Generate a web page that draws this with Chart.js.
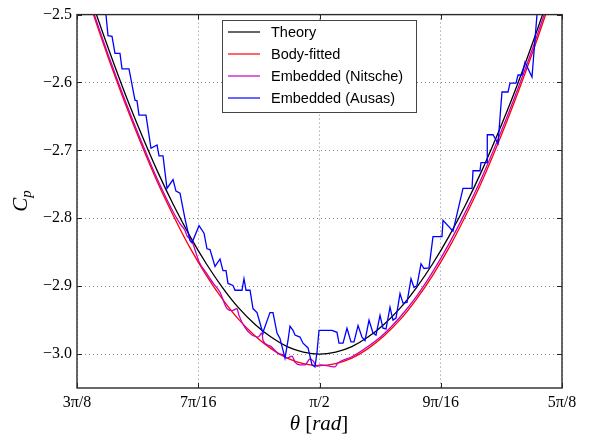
<!DOCTYPE html>
<html>
<head>
<meta charset="utf-8">
<script src="https://cdn.jsdelivr.net/npm/chart.js@4.4.0/dist/chart.umd.min.js"></script>
<style>
  html, body { margin: 0; padding: 0; background: #fff; }
  canvas { display: block; }
</style>
</head>
<body>
<canvas id="cpChart" width="590" height="442"></canvas>
<script>
    // theta in rad, Cp values
    const thetaTheory = [1.1781, 1.2043, 1.2305, 1.2566, 1.2828, 1.3090, 1.3352, 1.3614, 1.3875, 1.4137, 1.4399,
      1.4661, 1.4923, 1.5184, 1.5446, 1.5708, 1.5970, 1.6232, 1.6493, 1.6755, 1.7017, 1.7279, 1.7541,
      1.7802, 1.8064, 1.8326, 1.8588, 1.8850, 1.9111, 1.9373, 1.9635];
    const cpTheory = [-2.414, -2.486, -2.554, -2.618, -2.677, -2.732, -2.782, -2.827, -2.867, -2.902, -2.932,
      -2.956, -2.975, -2.989, -2.997, -3.000, -2.997, -2.989, -2.975, -2.956, -2.932, -2.902, -2.867,
      -2.827, -2.782, -2.732, -2.677, -2.618, -2.554, -2.486, -2.414];
    const cpBodyFitted = [-2.426, -2.499, -2.568, -2.632, -2.692, -2.748, -2.798, -2.844, -2.884, -2.919, -2.949,
      -2.973, -2.992, -3.006, -3.014, -3.017, -3.014, -3.006, -2.992, -2.973, -2.949, -2.919, -2.884,
      -2.844, -2.798, -2.748, -2.692, -2.632, -2.568, -2.499, -2.426];

    const thetaNitsche = [1.1781, 1.2043, 1.2305, 1.2566, 1.2828, 1.3090, 1.3352, 1.3449, 1.3530, 1.3563,
      1.3643, 1.3757, 1.3886, 1.3983, 1.4097, 1.4210, 1.4291, 1.4372, 1.4404, 1.4502,
      1.4615, 1.4712, 1.4777, 1.4793, 1.4906, 1.5036, 1.5117, 1.5182, 1.5263, 1.5311,
      1.5392, 1.5473, 1.5554, 1.5603, 1.5668, 1.5716, 1.5878, 1.5959, 1.6008, 1.6232,
      1.6493, 1.6755, 1.7017, 1.7279, 1.7541, 1.7802, 1.8064, 1.8326, 1.8588, 1.8850,
      1.9111, 1.9373, 1.9635];
    const cpNitsche = [-2.422, -2.495, -2.564, -2.628, -2.688, -2.744, -2.793, -2.808, -2.818, -2.826,
      -2.834, -2.864, -2.882, -2.895, -2.909, -2.933, -2.936, -2.933, -2.943, -2.961,
      -2.972, -2.975, -2.969, -2.980, -2.988, -2.999, -3.001, -3.006, -3.003, -3.012,
      -3.016, -3.016, -3.007, -3.010, -3.018, -3.016, -3.018, -3.019, -3.013, -3.004,
      -2.989, -2.970, -2.945, -2.915, -2.879, -2.838, -2.792, -2.742, -2.686, -2.626,
      -2.562, -2.493, -2.420];

    const thetaAusas = [1.2218, 1.2251, 1.2283, 1.2348, 1.2396, 1.2477, 1.2510, 1.2623, 1.2720, 1.2753,
      1.2785, 1.2898, 1.2979, 1.3077, 1.3109, 1.3174, 1.3238, 1.3336, 1.3384, 1.3449,
      1.3530, 1.3611, 1.3643, 1.3757, 1.3838, 1.3886, 1.3935, 1.4016, 1.4097, 1.4145,
      1.4194, 1.4226, 1.4307, 1.4340, 1.4453, 1.4485, 1.4518, 1.4583, 1.4631, 1.4696,
      1.4777, 1.4793, 1.4906, 1.4955, 1.5020, 1.5068, 1.5149, 1.5198, 1.5230, 1.5279,
      1.5311, 1.5392, 1.5441, 1.5522, 1.5587, 1.5635, 1.5668, 1.5700, 1.5910, 1.5991,
      1.6024, 1.6089, 1.6153, 1.6218, 1.6267, 1.6332, 1.6396, 1.6445, 1.6510, 1.6574,
      1.6623, 1.6688, 1.6736, 1.6785, 1.6850, 1.6898, 1.6947, 1.7012, 1.7060, 1.7125,
      1.7190, 1.7238, 1.7287, 1.7352, 1.7400, 1.7481, 1.7546, 1.7692, 1.7708, 1.7870,
      1.8032, 1.8178, 1.8194, 1.8307, 1.8323, 1.8421, 1.8425, 1.8518, 1.8599, 1.8663,
      1.8761, 1.8793, 1.8890, 1.8923, 1.8987, 1.9036, 1.9149, 1.9230, 1.9263];
    const cpAusas = [-2.475, -2.501, -2.531, -2.532, -2.557, -2.557, -2.580, -2.580, -2.626, -2.627,
      -2.648, -2.648, -2.697, -2.692, -2.708, -2.708, -2.756, -2.743, -2.760, -2.763,
      -2.801, -2.833, -2.836, -2.811, -2.822, -2.845, -2.846, -2.871, -2.860, -2.877,
      -2.877, -2.896, -2.899, -2.906, -2.906, -2.889, -2.906, -2.906, -2.933, -2.939,
      -2.965, -2.968, -2.939, -2.939, -2.969, -2.977, -3.006, -2.980, -2.959, -2.965,
      -2.972, -2.975, -2.984, -2.991, -3.016, -3.019, -2.997, -2.965, -2.965, -2.968,
      -2.984, -2.984, -2.962, -2.982, -2.982, -2.958, -2.975, -2.980, -2.950, -2.969,
      -2.972, -2.943, -2.962, -2.963, -2.931, -2.950, -2.947, -2.911, -2.925, -2.924,
      -2.889, -2.902, -2.899, -2.867, -2.874, -2.873, -2.827, -2.827, -2.803, -2.819,
      -2.756, -2.756, -2.730, -2.730, -2.718, -2.718, -2.677, -2.677, -2.690, -2.614,
      -2.614, -2.601, -2.601, -2.589, -2.589, -2.570, -2.592, -2.500, -2.475];

    const xTickValues = [1.1781, 1.3744, 1.5708, 1.7671, 1.9635];
    const xTickLabels = ['3π/8', '7π/16', 'π/2', '9π/16', '5π/8'];
    const yTickValues = [-2.5, -2.6, -2.7, -2.8, -2.9, -3.0];
    const yTickLabels = ['−2.5', '−2.6', '−2.7', '−2.8', '−2.9', '−3.0'];

    const toPoints = (xs, ys) => xs.map((x, i) => ({ x: x, y: ys[i] }));

    // frame, inward ticks, legend box and axis titles
    const decorations = {
      id: 'decorations',
      afterDatasetsDraw(chart) {
        const { ctx, chartArea: a, scales } = chart;
        ctx.save();
        ctx.strokeStyle = '#222';
        ctx.lineWidth = 1;
        xTickValues.forEach(v => {
          const px = Math.round(scales.x.getPixelForValue(v)) + 0.5;
          ctx.beginPath();
          ctx.moveTo(px, a.bottom); ctx.lineTo(px, a.bottom - 5);
          ctx.moveTo(px, a.top); ctx.lineTo(px, a.top + 5);
          ctx.stroke();
        });
        yTickValues.forEach(v => {
          const py = Math.round(scales.y.getPixelForValue(v)) + 0.5;
          ctx.beginPath();
          ctx.moveTo(a.left, py); ctx.lineTo(a.left + 5, py);
          ctx.moveTo(a.right, py); ctx.lineTo(a.right - 5, py);
          ctx.stroke();
        });
        ctx.lineWidth = 1.4;
        ctx.strokeStyle = '#2a2a2a';
        ctx.strokeRect(a.left, a.top, a.right - a.left, a.bottom - a.top);

        // legend
        const bx = 222, by = 20, bw = 194, bh = 92;
        ctx.fillStyle = '#fff';
        ctx.fillRect(bx, by, bw, bh);
        ctx.lineWidth = 1;
        ctx.strokeStyle = '#444';
        ctx.strokeRect(bx + 0.5, by + 0.5, bw, bh);
        ctx.font = '14.5px "Liberation Sans", Arial, sans-serif';
        ctx.textBaseline = 'middle';
        ctx.textAlign = 'left';
        chart.data.datasets.forEach((ds, i) => {
          const yy = by + 12 + i * 22;
          ctx.strokeStyle = ds.borderColor;
          ctx.lineWidth = 1.2;
          ctx.beginPath();
          ctx.moveTo(bx + 6, yy); ctx.lineTo(bx + 38, yy);
          ctx.stroke();
          ctx.fillStyle = '#000';
          ctx.fillText(ds.label, bx + 49, yy + 1);
        });
        ctx.restore();
      },
      afterDraw(chart) {
        const ctx = chart.ctx;
        ctx.save();
        ctx.fillStyle = '#000';
        ctx.textBaseline = 'alphabetic';
        ctx.textAlign = 'left';
        // y title: C_p
        ctx.translate(27, 201);
        ctx.rotate(-Math.PI / 2);
        ctx.font = 'italic 21px "Liberation Serif", serif';
        const wc = ctx.measureText('C').width;
        ctx.font = 'italic 15px "Liberation Serif", serif';
        const wp = ctx.measureText('p').width;
        let sx = -(wc + wp) / 2;
        ctx.font = 'italic 21px "Liberation Serif", serif';
        ctx.fillText('C', sx, 0);
        ctx.font = 'italic 15px "Liberation Serif", serif';
        ctx.fillText('p', sx + wc, 4);
        ctx.restore();

        // x title: θ [rad]
        ctx.save();
        ctx.fillStyle = '#000';
        const parts = [['θ', 'italic'], [' [', 'normal'], ['rad', 'italic'], [']', 'normal']];
        let total = 0;
        parts.forEach(p => { ctx.font = p[1] + ' 21px "Liberation Serif", serif'; total += ctx.measureText(p[0]).width; });
        let cx = 319 - total / 2;
        parts.forEach(p => {
          ctx.font = p[1] + ' 21px "Liberation Serif", serif';
          ctx.fillText(p[0], cx, 430);
          cx += ctx.measureText(p[0]).width;
        });
        ctx.restore();
      }
    };

    const ctx = document.getElementById('cpChart').getContext('2d');
    const chart = new Chart(ctx, {
      type: 'scatter',
      data: {
        datasets: [
          { label: 'Theory', data: toPoints(thetaTheory, cpTheory), borderColor: '#000000', order: 3, cubicInterpolationMode: 'monotone' },
          { label: 'Body-fitted', data: toPoints(thetaTheory, cpBodyFitted), borderColor: '#ff0000', order: 2, cubicInterpolationMode: 'monotone' },
          { label: 'Embedded (Nitsche)', data: toPoints(thetaNitsche, cpNitsche), borderColor: '#bf00bf', order: 1, cubicInterpolationMode: 'monotone' },
          { label: 'Embedded (Ausas)', data: toPoints(thetaAusas, cpAusas), borderColor: '#0000ff', order: 0 }
        ]
      },
      options: {
        responsive: false,
        animation: false,
        showLine: true,
        elements: { point: { radius: 0, hoverRadius: 0 }, line: { borderWidth: 1.3, fill: false } },
        layout: { padding: { top: 12, right: 28, left: 0, bottom: 0 } },
        plugins: { legend: { display: false }, tooltip: { enabled: false } },
        scales: {
          x: {
            type: 'linear', min: 1.1781, max: 1.9635,
            afterBuildTicks: s => { s.ticks = xTickValues.map(v => ({ value: v })); },
            afterFit: s => { s.height = 54; },
            ticks: {
              callback: (v, i) => xTickLabels[i],
              font: { family: '"Liberation Serif", serif', size: 16 },
              color: '#000', padding: 5, maxRotation: 0, autoSkip: false
            },
            grid: { color: '#8a8a8a', lineWidth: 1, drawTicks: false },
            border: { display: false, dash: [1, 3] }
          },
          y: {
            type: 'linear', min: -3.05, max: -2.5,
            afterBuildTicks: s => { s.ticks = yTickValues.map(v => ({ value: v })); },
            afterFit: s => { s.width = 77; },
            ticks: {
              callback: (v, i) => yTickLabels[i],
              font: { family: '"Liberation Serif", serif', size: 16 },
              color: '#000', padding: 5
            },
            grid: { color: '#8a8a8a', lineWidth: 1, drawTicks: false },
            border: { display: false, dash: [1, 3] }
          }
        }
      },
      plugins: [decorations]
    });
</script>
</body>
</html>
